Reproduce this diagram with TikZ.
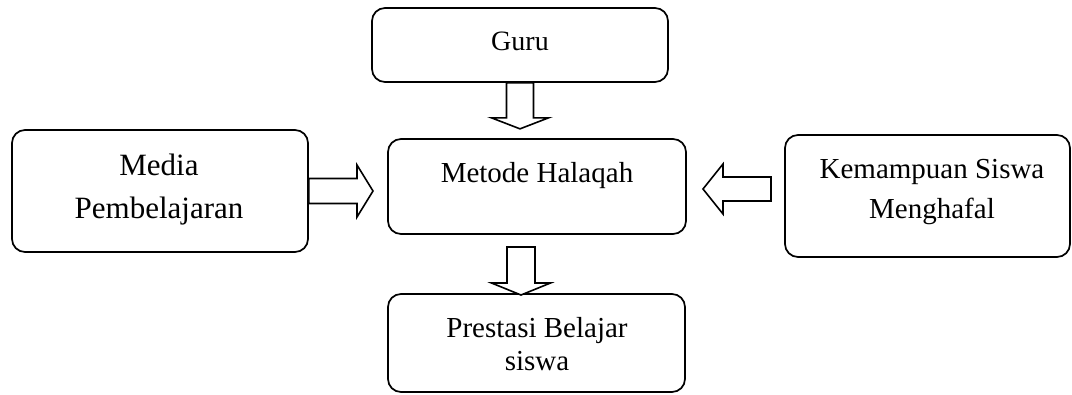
\documentclass[tikz,border=0pt]{standalone}
\usepackage{fontspec}
\setmainfont{Liberation Serif}
\usetikzlibrary{calc}

% hollow block arrow: #1 start, #2 tip, #3 shaft half width, #4 head half width, #5 head length
\newcommand\blockarrow[5]{%
  \coordinate (hb) at ($(#2)!#5!(#1)$);
  \draw[barrow]
    ($(#1)!#3!90:(#2)$) -- ($(hb)!#3!90:(#2)$) -- ($(hb)!#4!90:(#2)$) -- (#2)
    -- ($(hb)!#4!-90:(#2)$) -- ($(hb)!#3!-90:(#2)$) -- ($(#1)!#3!-90:(#2)$) -- cycle;
}

\begin{document}
\begin{tikzpicture}[x=1pt,y=-1pt,
  box/.style={draw=black, line width=1.7pt, rounded corners=13pt, inner sep=0pt, fill=white},
  barrow/.style={draw=black, line width=1.6pt, line join=miter, fill=white},
  lbl/.style={anchor=base, inner sep=0pt, text=black}]

  \useasboundingbox[fill=white] (0,0) rectangle (1072,394);

  % boxes
  \node[box, minimum width=296pt, minimum height=74pt]  (guru)     at (520,45)    {};
  \node[box, minimum width=296pt, minimum height=122pt] (media)    at (160,191)   {};
  \node[box, minimum width=298pt, minimum height=95pt]  (metode)   at (537,186.5) {};
  \node[box, minimum width=285pt, minimum height=122pt] (kemampuan) at (927.5,196) {};
  \node[box, minimum width=297pt, minimum height=98pt]  (prestasi) at (536.5,343) {};

  % labels
  \node[lbl, font=\fontsize{28pt}{32pt}\selectfont] (tguru) at (520,50) {Guru};
  \node[lbl, font=\fontsize{29pt}{33pt}\selectfont] (tmetode) at (537,182) {Metode Halaqah};
  \node[lbl, font=\fontsize{31pt}{36pt}\selectfont] (tmedia1) at (159,175) {Media};
  \node[lbl, font=\fontsize{31pt}{36pt}\selectfont] (tmedia2) at (159,218) {Pembelajaran};
  \node[lbl, font=\fontsize{29pt}{33pt}\selectfont] (tkem1) at (932,178) {Kemampuan Siswa};
  \node[lbl, font=\fontsize{29pt}{33pt}\selectfont] (tkem2) at (932,218) {Menghafal};
  \node[lbl, font=\fontsize{29pt}{33pt}\selectfont] (tpres1) at (537,337) {Prestasi Belajar};
  \node[lbl, font=\fontsize{29pt}{33pt}\selectfont] (tpres2) at (537,370) {siswa};

  % arrow end points
  \coordinate (g2m) at ($(guru.south)+(0,46)$);
  \coordinate (m2p-s) at (521,247);
  \coordinate (m2p-t) at (521,295);
  \coordinate (med-s) at (media.east);
  \coordinate (med-t) at (373,191);
  \coordinate (kem-s) at (771,189);
  \coordinate (kem-t) at (703,189);

  % arrows
  \blockarrow{guru.south}{g2m}{13.5pt}{28.5pt}{11pt}
  \blockarrow{m2p-s}{m2p-t}{14pt}{29.5pt}{12pt}
  \blockarrow{med-s}{med-t}{12.5pt}{26pt}{16pt}
  \blockarrow{kem-s}{kem-t}{12pt}{25pt}{20pt}
\end{tikzpicture}
\end{document}
